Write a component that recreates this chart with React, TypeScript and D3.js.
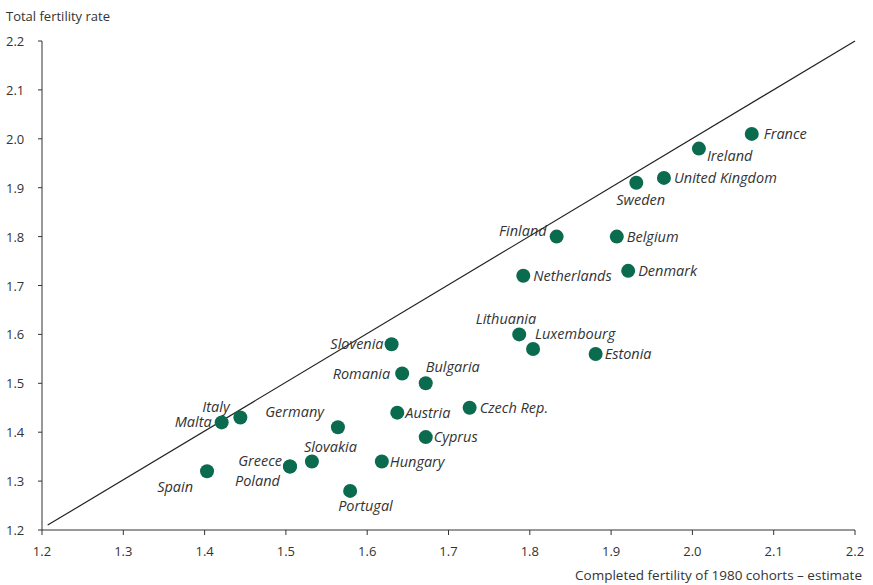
import React from "react";
import * as d3 from "d3";

const countries = ["France","Ireland","United Kingdom","Sweden","Finland","Belgium","Netherlands","Denmark","Lithuania","Luxembourg","Estonia","Slovenia","Romania","Bulgaria","Czech Rep.","Austria","Cyprus","Germany","Italy","Malta","Slovakia","Greece","Poland","Hungary","Spain","Portugal"];
const completed = [2.073,2.008,1.965,1.931,1.833,1.907,1.792,1.921,1.787,1.804,1.881,1.630,1.643,1.672,1.726,1.637,1.672,1.564,1.444,1.421,1.532,1.505,1.505,1.618,1.403,1.579];
const tfr = [2.01,1.98,1.92,1.91,1.80,1.80,1.72,1.73,1.60,1.57,1.56,1.58,1.52,1.50,1.45,1.44,1.39,1.41,1.43,1.42,1.34,1.33,1.33,1.34,1.32,1.28];
// label offset placement: [dx, dy, anchor]
const labelPos: [number, number, string][] = [
  [12,5,"start"],[8,12,"start"],[10,5,"start"],[-20,22,"start"],[-10,-1,"end"],[10,5,"start"],[10,5,"start"],[10,5,"start"],[17,-10,"end"],[2,-10,"start"],[9,5,"start"],[-8,5,"end"],[-12,5,"end"],[0,-11,"start"],[10,5,"start"],[8,5,"start"],[8,5,"start"],[-14,-10,"end"],[-38,-6,"start"],[-10,5,"end"],[-8,-10,"start"],[-8,0,"end"],[-10,20,"end"],[8,5,"start"],[-14,21,"end"],[-12,20,"start"]];
const ticks = [1.2,1.3,1.4,1.5,1.6,1.7,1.8,1.9,2.0,2.1,2.2];

export default function App() {
  const x = d3.scaleLinear().domain([1.2, 2.2]).range([42, 855]);
  const y = d3.scaleLinear().domain([1.2, 2.2]).range([530, 41]);
  const font = "'Open Sans', sans-serif";
  return (
    <svg width={873} height={585} style={{ position: "absolute", left: 0, top: 0 }} fontFamily={font}>
      <text x={6} y={21} fontSize={13} fill="#333">Total fertility rate</text>
      <line x1={x(1.2)} x2={x(1.2)} y1={y(2.2)} y2={y(1.2)} stroke="#333" />
      <line x1={x(1.2)} x2={x(2.2)} y1={y(1.2)} y2={y(1.2)} stroke="#333" />
      {ticks.map((t) => (
        <g key={"y" + t}>
          <line x1={x(1.2) - 4} x2={x(1.2)} y1={y(t)} y2={y(t)} stroke="#333" />
          <text x={6} y={y(t) + 5} fontSize={13} fill="#333">{t.toFixed(1)}</text>
        </g>
      ))}
      {ticks.map((t) => (
        <g key={"x" + t}>
          <line x1={x(t)} x2={x(t)} y1={y(1.2)} y2={y(1.2) + 5} stroke="#333" />
          <text x={x(t)} y={556} fontSize={13} fill="#333" textAnchor="middle">{t.toFixed(1)}</text>
        </g>
      ))}
      <text x={862} y={580} fontSize={13.5} fill="#333" textAnchor="end">Completed fertility of 1980 cohorts – estimate</text>
      <line x1={x(1.207)} y1={y(1.21)} x2={x(2.2)} y2={y(2.2)} stroke="#222" strokeWidth={1.2} />
      {countries.map((c, i) => (
        <circle key={c} cx={x(completed[i])} cy={y(tfr[i])} r={7} fill="#0b6b4f" />
      ))}
      {countries.map((c, i) => (
        <text key={"l" + c} x={x(completed[i]) + labelPos[i][0]} y={y(tfr[i]) + labelPos[i][1]} fontSize={14.5} fontStyle="italic" fill="#333" textAnchor={labelPos[i][2]}>{c}</text>
      ))}
    </svg>
  );
}
